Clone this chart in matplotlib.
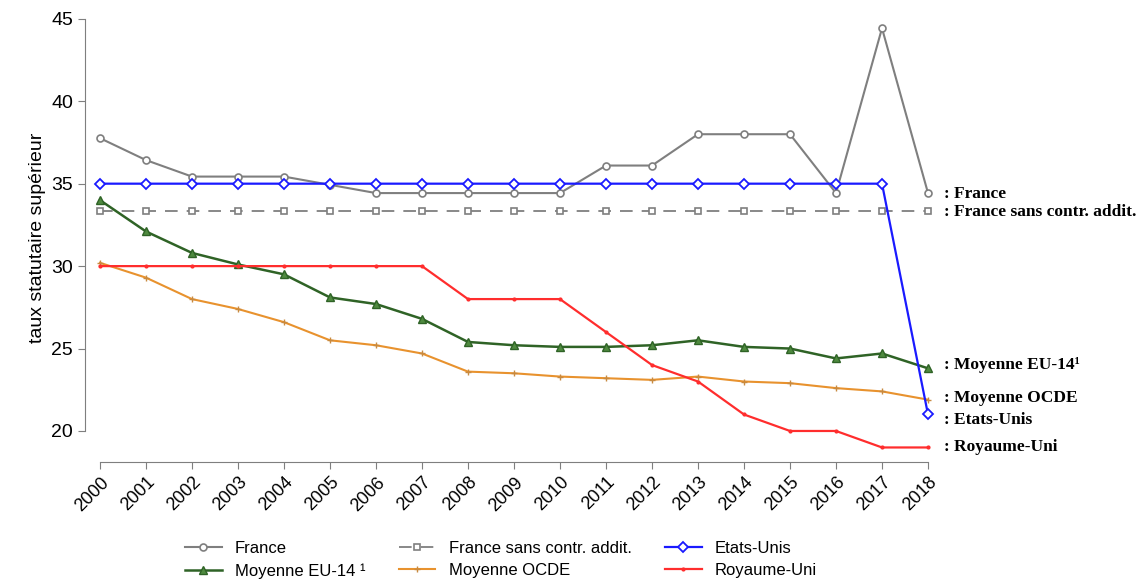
import matplotlib
matplotlib.use('Agg')
import matplotlib.pyplot as plt

plt.rcParams['font.family'] = ['Liberation Sans', 'DejaVu Sans']

years = list(range(2000, 2019))
france = [37.76, 36.43, 35.43, 35.43, 35.43, 34.93, 34.43, 34.43, 34.43, 34.43,
          34.43, 36.1, 36.1, 38.0, 38.0, 38.0, 34.43, 44.43, 34.43]
france_sans = [33.33] * 19
etats_unis = [35] * 18 + [21]
eu14 = [34.0, 32.1, 30.8, 30.1, 29.5, 28.1, 27.7, 26.8, 25.4, 25.2,
        25.1, 25.1, 25.2, 25.5, 25.1, 25.0, 24.4, 24.7, 23.8]
ocde = [30.2, 29.3, 28.0, 27.4, 26.6, 25.5, 25.2, 24.7, 23.6, 23.5,
        23.3, 23.2, 23.1, 23.3, 23.0, 22.9, 22.6, 22.4, 21.9]
royaume_uni = [30, 30, 30, 30, 30, 30, 30, 30, 28, 28,
               28, 26, 24, 23, 21, 20, 20, 19, 19]

right_labels = [': France', ': France sans contr. addit.', ': Moyenne EU-14\u00b9',
                ': Moyenne OCDE', ': Etats-Unis', ': Royaume-Uni']
right_label_y = [34.4, 33.3, 24.0, 22.0, 20.65, 19.0]

fig = plt.figure(figsize=(11.47, 5.85), dpi=100)
ax = fig.add_axes([0.0741, 0.2103, 0.7454, 0.766])

l_fr, = ax.plot(years, france, '-o', color='#7f7f7f', lw=1.5, ms=5,
                mfc='white', mec='#7f7f7f', mew=1.2, clip_on=False)
l_frs, = ax.plot(years, france_sans, '--s', color='#7f7f7f', lw=1.3, ms=5,
                 mfc='white', mec='#7f7f7f', mew=1.2, dashes=(7, 5), clip_on=False)
l_eu, = ax.plot(years, eu14, '-^', color='#2f6326', lw=1.8, ms=6,
                mfc='#4f8a3f', mec='#2f6326', clip_on=False)
l_oc, = ax.plot(years, ocde, '-+', color='#e8922e', lw=1.5, ms=5,
                mec='#c88a40', clip_on=False)
l_us, = ax.plot(years, etats_unis, '-D', color='#1a1aff', lw=1.6, ms=5,
                mfc='white', mec='#1a1aff', mew=1.3, clip_on=False)
l_uk, = ax.plot(years, royaume_uni, '-', color='#ff2d2d', lw=1.6,
                marker='.', ms=4, clip_on=False)

ax.set_xlim(1999.674, 2018.26)
ax.set_ylim(18.12, 45.3)
ax.set_xticks(years)
ax.set_xticklabels([str(y) for y in years], rotation=45, fontsize=13,
                   ha='right', rotation_mode='anchor')
ax.set_yticks([20, 25, 30, 35, 40, 45])
ax.tick_params(axis='y', labelsize=14, length=5, color='#7f7f7f')
ax.tick_params(axis='x', length=5, color='#7f7f7f')
ax.set_ylabel('taux statutaire supérieur', fontsize=14)

for s in ['top', 'right']:
    ax.spines[s].set_visible(False)
ax.spines['left'].set_bounds(20, 45)
ax.spines['bottom'].set_bounds(2000, 2018)
ax.spines['left'].set_color('#7f7f7f')
ax.spines['bottom'].set_color('#7f7f7f')

for lab, yv in zip(right_labels, right_label_y):
    ax.text(2018.35, yv, lab, fontsize=12.5, fontweight='bold',
            family=['Liberation Serif', 'DejaVu Serif'], va='center',
            ha='left', clip_on=False)

handles = [l_fr, l_eu, l_frs, l_oc, l_us, l_uk]
labels = ['France', 'Moyenne EU-14 \u00b9', 'France sans contr. addit.',
          'Moyenne OCDE', 'Etats-Unis', 'Royaume-Uni']
fig.legend(handles, labels, ncol=3, loc='upper left',
           bbox_to_anchor=(0.154, 0.090), frameon=False, fontsize=12,
           borderpad=0, handlelength=2.2, handletextpad=0.8,
           columnspacing=2.0, labelspacing=0.45)

fig.savefig('out.png', dpi=100)
